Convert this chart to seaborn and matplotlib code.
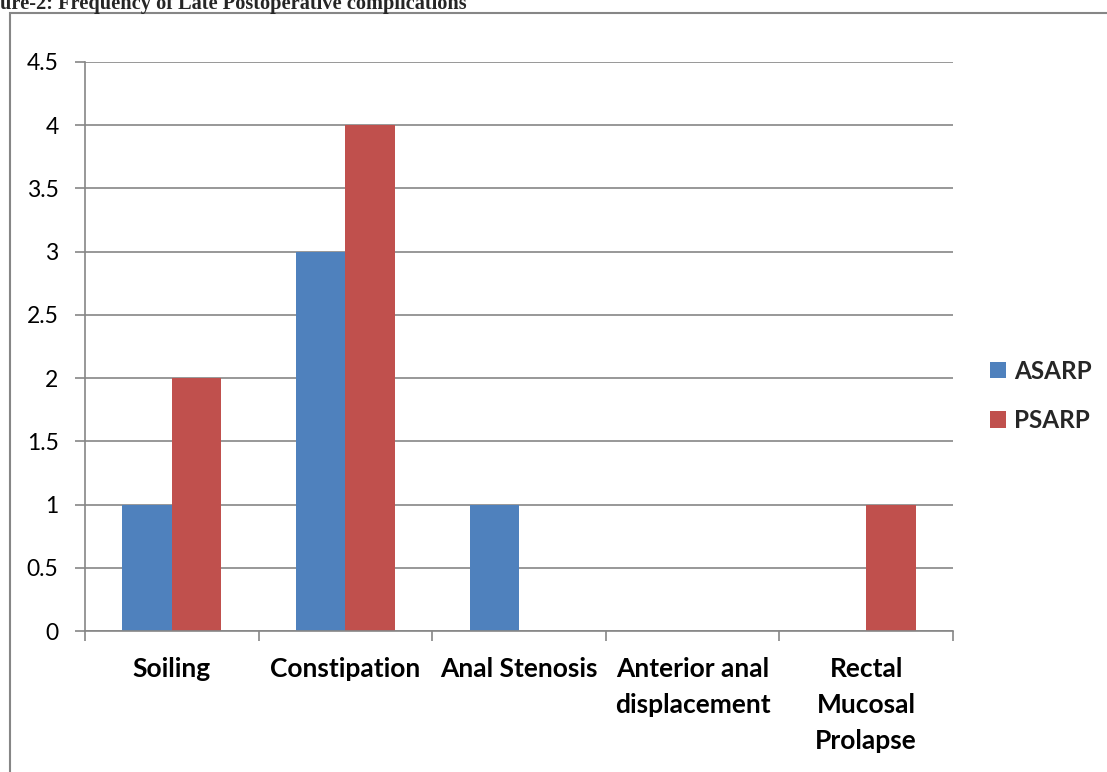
import matplotlib
matplotlib.use("Agg")
import matplotlib.pyplot as plt
import seaborn as sns
import pandas as pd
from matplotlib.patches import Rectangle

categories = ["Soiling", "Constipation", "Anal Stenosis",
              "Anterior anal\ndisplacement", "Rectal\nMucosal\nProlapse"]
asarp = [1, 3, 1, 0, 0]
psarp = [2, 4, 0, 0, 1]
series = ["ASARP", "PSARP"]
yticks = [0, 0.5, 1, 1.5, 2, 2.5, 3, 3.5, 4, 4.5]
title = "ure-2: Frequency of Late Postoperative complications"

df = pd.DataFrame({
    "category": categories * 2,
    "value": asarp + psarp,
    "series": [series[0]] * len(categories) + [series[1]] * len(categories),
})

sns.set_theme(style="white")
plt.rcParams["font.family"] = ["Lato", "DejaVu Sans"]

W, H = 1107, 772
fig = plt.figure(figsize=(W / 100, H / 100), dpi=100)
ax = fig.add_axes([85 / W, 1 - 631 / H, (953 - 85) / W, (631 - 62) / H])

palette = {"ASARP": "#4F81BD", "PSARP": "#C0504D"}
sns.barplot(data=df, x="category", y="value", hue="series", order=categories,
            hue_order=series, palette=palette, width=0.57, saturation=1,
            edgecolor="none", linewidth=0, ax=ax, legend=True)

ax.set_ylim(0, 4.5)
ax.set_xlim(-0.5, len(categories) - 0.5)
ax.set_yticks(yticks)
ax.set_yticklabels([f"{t:g}" for t in yticks], fontsize=16.5, color="black")
ax.yaxis.grid(True, color="#868686", linewidth=1.2)
ax.set_axisbelow(True)
ax.set_xlabel("")
ax.set_ylabel("")

# x ticks at category boundaries
ax.set_xticks([i - 0.5 for i in range(len(categories) + 1)], minor=True)
ax.set_xticks(range(len(categories)))
ax.set_xticklabels(categories, fontsize=19, fontweight="bold", linespacing=1.6,
                   va="top", color="black")
ax.tick_params(axis="x", which="major", length=0, pad=19)
ax.tick_params(axis="x", which="minor", length=7, width=1.2, color="#868686",
               direction="out", bottom=True)
ax.tick_params(axis="y", length=7, width=1.2, color="#868686", direction="out",
               left=True, pad=12)

for s in ["top", "right"]:
    ax.spines[s].set_visible(False)
for s in ["left", "bottom"]:
    ax.spines[s].set_color("#868686")
    ax.spines[s].set_linewidth(1.2)

leg = ax.legend(loc="center left", bbox_to_anchor=(990 / W, 1 - 396 / H),
                bbox_transform=fig.transFigure, frameon=False,
                borderpad=0, borderaxespad=0,
                prop={"weight": "bold", "size": 17.5}, handlelength=0.64,
                handleheight=0.68, labelspacing=1.1, handletextpad=0.34)

# outer chart border
fig.patches.append(Rectangle((10 / W, -0.05), 1.2, 1 - 13 / H + 0.05,
                             transform=fig.transFigure, fill=False,
                             edgecolor="#868686", linewidth=1.5))

fig.text(0.0, 1 - 9 / H, title, family=["Liberation Serif", "DejaVu Serif"],
         fontweight="bold", fontsize=14.7, va="baseline", ha="left")

fig.savefig("out.png", dpi=100)
